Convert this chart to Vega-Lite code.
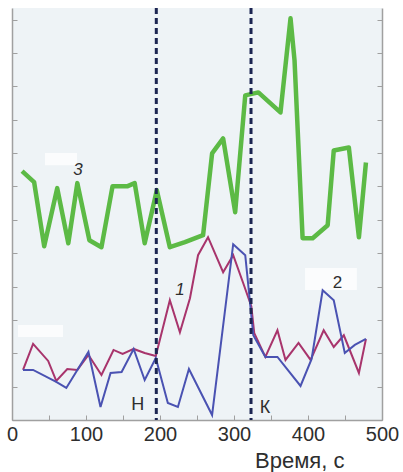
{
  "$schema": "https://vega.github.io/schema/vega-lite/v6.json",
  "autosize": {"type": "none"},
  "padding": {"left": 12, "top": 8, "right": 21, "bottom": 52},
  "width": 370,
  "height": 412,
  "background": "#ffffff",
  "config": {
    "view": {"fill": "#eef3f6", "stroke": null},
    "axis": {"grid": false, "domainColor": "#a0a0a0", "domainWidth": 1.5, "tickColor": "#a0a0a0", "tickWidth": 1, "labelFont": "Liberation Sans", "titleFont": "Liberation Sans", "labelColor": "#2e2e2e", "titleColor": "#2e2e2e"},
    "text": {"font": "Liberation Sans", "color": "#2e2e2e"}
  },
  "datasets": {
    "series": [
      {"s": "3", "t": 13.6, "v": 7.46}, {"s": "3", "t": 29.9, "v": 7.13}, {"s": "3", "t": 43.5, "v": 5.21}, {"s": "3", "t": 61.1, "v": 6.95},
      {"s": "3", "t": 76.1, "v": 5.30}, {"s": "3", "t": 88.3, "v": 7.10}, {"s": "3", "t": 104.6, "v": 5.39}, {"s": "3", "t": 120.9, "v": 5.18},
      {"s": "3", "t": 135.9, "v": 7.01}, {"s": "3", "t": 156.3, "v": 7.01}, {"s": "3", "t": 165.8, "v": 7.10}, {"s": "3", "t": 179.3, "v": 5.30},
      {"s": "3", "t": 195.7, "v": 6.89}, {"s": "3", "t": 213.3, "v": 5.18}, {"s": "3", "t": 233.7, "v": 5.33}, {"s": "3", "t": 258.2, "v": 5.54},
      {"s": "3", "t": 270.4, "v": 7.99}, {"s": "3", "t": 285.3, "v": 8.44}, {"s": "3", "t": 301.6, "v": 6.23}, {"s": "3", "t": 315.2, "v": 9.73},
      {"s": "3", "t": 332.9, "v": 9.82}, {"s": "3", "t": 362.8, "v": 9.22}, {"s": "3", "t": 376.4, "v": 12.04}, {"s": "3", "t": 381.8, "v": 10.78},
      {"s": "3", "t": 392.7, "v": 5.45}, {"s": "3", "t": 406.3, "v": 5.45}, {"s": "3", "t": 426.6, "v": 5.84}, {"s": "3", "t": 434.8, "v": 8.08},
      {"s": "3", "t": 455.2, "v": 8.17}, {"s": "3", "t": 468.8, "v": 5.48}, {"s": "3", "t": 478.3, "v": 7.72},
      {"s": "1", "t": 14.9, "v": 1.50}, {"s": "1", "t": 28.5, "v": 2.28}, {"s": "1", "t": 48.9, "v": 1.77}, {"s": "1", "t": 59.8, "v": 1.17},
      {"s": "1", "t": 74.7, "v": 1.53}, {"s": "1", "t": 88.3, "v": 1.50}, {"s": "1", "t": 103.3, "v": 1.95}, {"s": "1", "t": 120.9, "v": 1.35},
      {"s": "1", "t": 137.2, "v": 2.10}, {"s": "1", "t": 149.5, "v": 1.98}, {"s": "1", "t": 164.4, "v": 2.13}, {"s": "1", "t": 179.3, "v": 2.01},
      {"s": "1", "t": 194.3, "v": 1.92}, {"s": "1", "t": 213.3, "v": 3.59}, {"s": "1", "t": 226.9, "v": 2.63}, {"s": "1", "t": 240.5, "v": 3.65},
      {"s": "1", "t": 251.4, "v": 4.94}, {"s": "1", "t": 264.9, "v": 5.48}, {"s": "1", "t": 285.3, "v": 4.43}, {"s": "1", "t": 298.9, "v": 4.94},
      {"s": "1", "t": 312.5, "v": 4.10}, {"s": "1", "t": 323.4, "v": 3.41}, {"s": "1", "t": 327.4, "v": 2.60}, {"s": "1", "t": 342.4, "v": 1.89},
      {"s": "1", "t": 358.7, "v": 2.69}, {"s": "1", "t": 369.6, "v": 1.80}, {"s": "1", "t": 387.2, "v": 2.31}, {"s": "1", "t": 403.5, "v": 1.80},
      {"s": "1", "t": 421.2, "v": 2.69}, {"s": "1", "t": 434.8, "v": 2.19}, {"s": "1", "t": 448.4, "v": 2.54}, {"s": "1", "t": 468.8, "v": 1.41},
      {"s": "1", "t": 478.3, "v": 2.43},
      {"s": "2", "t": 14.9, "v": 1.50}, {"s": "2", "t": 28.5, "v": 1.50}, {"s": "2", "t": 59.8, "v": 1.14}, {"s": "2", "t": 73.4, "v": 0.96},
      {"s": "2", "t": 103.3, "v": 2.04}, {"s": "2", "t": 119.6, "v": 0.39}, {"s": "2", "t": 133.2, "v": 1.41}, {"s": "2", "t": 148.1, "v": 1.44},
      {"s": "2", "t": 164.4, "v": 2.13}, {"s": "2", "t": 179.3, "v": 1.20}, {"s": "2", "t": 194.3, "v": 1.86}, {"s": "2", "t": 210.6, "v": 0.51},
      {"s": "2", "t": 224.2, "v": 0.39}, {"s": "2", "t": 239.1, "v": 1.53}, {"s": "2", "t": 270.4, "v": 0.15}, {"s": "2", "t": 298.9, "v": 5.27},
      {"s": "2", "t": 315.2, "v": 4.94}, {"s": "2", "t": 326.1, "v": 2.54}, {"s": "2", "t": 342.4, "v": 1.89}, {"s": "2", "t": 358.7, "v": 1.89},
      {"s": "2", "t": 389.9, "v": 1.02}, {"s": "2", "t": 404.9, "v": 1.83}, {"s": "2", "t": 419.8, "v": 3.89}, {"s": "2", "t": 434.8, "v": 3.59},
      {"s": "2", "t": 449.7, "v": 2.01}, {"s": "2", "t": 463.3, "v": 2.25}, {"s": "2", "t": 478.3, "v": 2.43}
    ],
    "events": [{"t": 195, "name": "Н"}, {"t": 323, "name": "К"}],
    "labels": [
      {"t": 89, "v": 7.49, "text": "3", "kind": "curve"},
      {"t": 227, "v": 3.89, "text": "1", "kind": "curve"},
      {"t": 440, "v": 4.1, "text": "2", "kind": "curve2"},
      {"t": 170, "v": 0.45, "text": "Н", "kind": "event"},
      {"t": 342, "v": 0.36, "text": "К", "kind": "event"}
    ],
    "patches": [
      {"t": 44.6, "t2": 87.8, "v": 8.0, "v2": 7.64},
      {"t": 8.1, "t2": 68.9, "v": 2.85, "v2": 2.49},
      {"t": 396, "t2": 466, "v": 4.56, "v2": 3.9}
    ]
  },
  "encoding": {
    "x": {
      "field": "t", "type": "quantitative",
      "scale": {"domain": [0, 500], "nice": false, "zero": false},
      "axis": {
        "orient": "bottom",
        "values": [0, 50, 100, 150, 200, 250, 300, 350, 400, 450, 500],
        "labelExpr": "datum.value % 100 === 0 ? datum.label : ''",
        "labelFontSize": 20, "labelFlush": false, "labelOverlap": false,
        "tickSize": -5, "labelPadding": 9,
        "title": "Время, с", "titleFontSize": 22, "titleFontWeight": "normal",
        "titleAnchor": null, "titleX": 332, "titleY": 47, "titleAlign": "right", "titleBaseline": "alphabetic"
      }
    }
  },
  "layer": [
    {
      "data": {"name": "patches"},
      "mark": {"type": "rect", "fill": "#ffffff", "opacity": 0.75},
      "encoding": {
        "x2": {"field": "t2"},
        "y": {"field": "v", "type": "quantitative", "scale": {"domain": [0, 12.35], "nice": false, "zero": false}, "axis": null},
        "y2": {"field": "v2"}
      }
    },
    {
      "data": {"name": "series"},
      "transform": [{"filter": "datum.s === '3'"}],
      "mark": {"type": "line", "color": "#5cba45", "strokeWidth": 4.5, "strokeJoin": "round"},
      "encoding": {
        "y": {"field": "v", "type": "quantitative", "scale": {"domain": [0, 12.35], "nice": false, "zero": false},
              "axis": {"orient": "left", "values": [0,1,2,3,4,5,6,7,8,9,10,11,12], "labels": false, "tickSize": -5, "title": null}}
      }
    },
    {
      "data": {"name": "series"},
      "transform": [{"filter": "datum.s === '1'"}],
      "mark": {"type": "line", "color": "#a8346c", "strokeWidth": 2},
      "encoding": {
        "y": {"field": "v", "type": "quantitative", "scale": {"domain": [0, 12.35], "nice": false, "zero": false},
              "axis": {"orient": "right", "values": [0,1,2,3,4,5,6,7,8,9,10,11,12], "labels": false, "tickSize": -5, "title": null}}
      }
    },
    {
      "data": {"name": "series"},
      "transform": [{"filter": "datum.s === '2'"}],
      "mark": {"type": "line", "color": "#4a52b2", "strokeWidth": 2},
      "encoding": {
        "y": {"field": "v", "type": "quantitative", "scale": {"domain": [0, 12.35], "nice": false, "zero": false}, "axis": null}
      }
    },
    {
      "data": {"name": "events"},
      "mark": {"type": "rule", "color": "#1c2552", "strokeWidth": 3, "strokeDash": [6, 4]},
      "encoding": {}
    },
    {
      "data": {"name": "labels"},
      "transform": [{"filter": "datum.kind === 'curve'"}],
      "mark": {"type": "text", "fontSize": 17, "fontStyle": "italic", "align": "center", "baseline": "middle"},
      "encoding": {
        "y": {"field": "v", "type": "quantitative", "scale": {"domain": [0, 12.35], "nice": false, "zero": false}, "axis": null},
        "text": {"field": "text"}
      }
    },
    {
      "data": {"name": "labels"},
      "transform": [{"filter": "datum.kind === 'curve2'"}],
      "mark": {"type": "text", "fontSize": 17, "align": "center", "baseline": "middle"},
      "encoding": {
        "y": {"field": "v", "type": "quantitative", "scale": {"domain": [0, 12.35], "nice": false, "zero": false}, "axis": null},
        "text": {"field": "text"}
      }
    },
    {
      "data": {"name": "labels"},
      "transform": [{"filter": "datum.kind === 'event'"}],
      "mark": {"type": "text", "fontSize": 18, "align": "center", "baseline": "middle"},
      "encoding": {
        "y": {"field": "v", "type": "quantitative", "scale": {"domain": [0, 12.35], "nice": false, "zero": false}, "axis": null},
        "text": {"field": "text"}
      }
    }
  ],
  "resolve": {"axis": {"y": "independent"}}
}
